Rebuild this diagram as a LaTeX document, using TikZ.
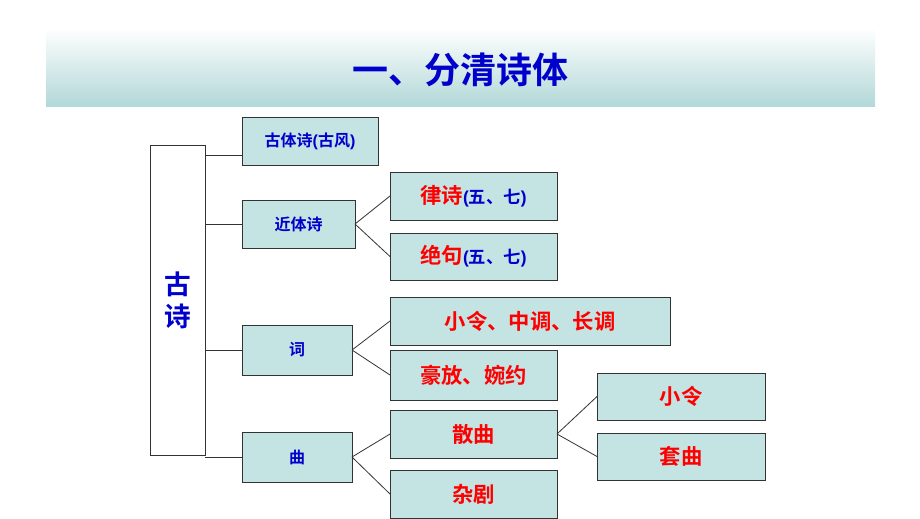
\documentclass[tikz,border=0pt]{standalone}
\usepackage{fontspec}
\setmainfont{Noto Sans CJK SC}[BoldFont={Noto Sans CJK SC Bold}]
\newfontfamily\latin{Liberation Sans}
\definecolor{boxfill}{HTML}{C4E3E3}
\definecolor{bandb}{HTML}{B2D8D8}
\definecolor{tblue}{HTML}{0000CC}
\definecolor{tred}{HTML}{FF0000}
\begin{document}
\begin{tikzpicture}[x=0.75pt,y=-0.75pt,
  box/.style={draw=black!80,fill=boxfill,inner sep=0pt,outer sep=0pt,font=\bfseries},
  small/.style={box,font=\bfseries\fontsize{12}{14}\selectfont,text=tblue},
  big/.style={box,font=\bfseries\fontsize{16}{18}\selectfont,text=tred},
  link/.style={draw=black!80,line width=0.6pt}]
\useasboundingbox (0,0) rectangle (920,518);
\shade[top color=white,bottom color=bandb] (46,28) rectangle (875,106);
\node[font=\bfseries\fontsize{27}{30}\selectfont,text=tblue] (title) at (460,70) {一、分清诗体};
\node[draw=black!80,fill=white,inner sep=0pt,outer sep=0pt,minimum width=41.25pt,minimum height=232.5pt,
  font=\bfseries\fontsize{20}{24}\selectfont,text=tblue,align=center] (root) at (177.5,300) {古\\诗};
\node[small,minimum width=102pt,minimum height=36pt] (a1) at (310,141) {古体诗\latin(\normalfont\bfseries 古风\latin)};
\node[small,minimum width=84.75pt,minimum height=36pt] (a2) at (298.5,224) {近体诗};
\node[small,minimum width=82.5pt,minimum height=37.5pt] (a3) at (297,350) {词};
\node[small,minimum width=82.5pt,minimum height=37.5pt] (a4) at (297,457) {曲};
\node[big,minimum width=125.25pt,minimum height=36pt] (b1) at (473.5,196) {律诗\textcolor{tblue}{\fontsize{13}{15}\selectfont\latin(\normalfont\bfseries 五、七\latin)}};
\node[big,minimum width=125.25pt,minimum height=35.25pt] (b2) at (473.5,256.5) {绝句\textcolor{tblue}{\fontsize{13}{15}\selectfont\latin(\normalfont\bfseries 五、七\latin)}};
\node[big,minimum width=210pt,minimum height=36pt] (b3) at (530,321) {小令、中调、长调};
\node[big,minimum width=125.25pt,minimum height=37.5pt] (b4) at (473.5,375) {豪放、婉约};
\node[big,minimum width=125.25pt,minimum height=36pt] (b5) at (473.5,434) {散曲};
\node[big,minimum width=125.25pt,minimum height=36pt] (b6) at (473.5,494) {杂剧};
\node[big,minimum width=126pt,minimum height=35.25pt] (c1) at (681,396.5) {小令};
\node[big,minimum width=126pt,minimum height=35.25pt] (c2) at (681,456.5) {套曲};
\coordinate (r1) at (205,155);
\coordinate (e1) at (242,155);
\draw[link] (r1) -- (e1);
\draw[link] (root.east |- a2.west) -- (a2.west);
\draw[link] (root.east |- a3.west) -- (a3.west);
\draw[link] (root.east |- a4.west) -- (a4.west);
\draw[link] (a2.east) -- (b1.west);
\draw[link] (a2.east) -- (b2.west);
\draw[link] (a3.east) -- (b3.west);
\draw[link] (a3.east) -- (b4.west);
\draw[link] (a4.east) -- (b5.west);
\draw[link] (a4.east) -- (b6.west);
\draw[link] (b5.east) -- (c1.west);
\draw[link] (b5.east) -- (c2.west);
\end{tikzpicture}
\end{document}
